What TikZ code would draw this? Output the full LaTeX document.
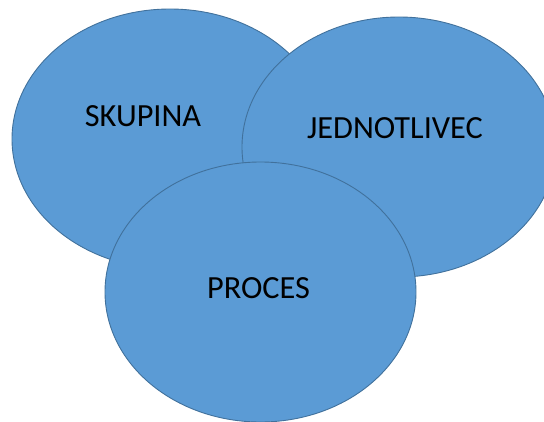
\documentclass[tikz,border=0pt]{standalone}
\usepackage{fontspec}
\setmainfont{Carlito}
\usetikzlibrary{shapes.geometric}
\definecolor{blobfill}{HTML}{5B9BD5}
\definecolor{blobline}{HTML}{41719C}
\tikzset{
  blob/.style={ellipse, draw=blobline, fill=blobfill, line width=0.9pt, inner sep=0pt},
  label/.style={font=\fontsize{32.3}{32.3}\selectfont, text=black, inner sep=0pt, anchor=base}
}
\begin{document}
\begin{tikzpicture}[x=1pt,y=-1pt]
\useasboundingbox (0,0) rectangle (544,421);
\clip (0,0) rectangle (544,421);
\node[blob, minimum width=316pt, minimum height=260pt] (skupina) at (170,139) {};
\node[blob, minimum width=314pt, minimum height=260pt] (jednotlivec) at (399,147) {};
\node[blob, minimum width=311pt, minimum height=260pt] (proces) at (260.5,292) {};
\node[label] (tskupina) at (143,126) {SKUPINA};
\node[label] (tjednotlivec) at (395,138) {JEDNOTLIVEC};
\node[label] (tproces) at (258.5,298) {PROCES};
\end{tikzpicture}
\end{document}
